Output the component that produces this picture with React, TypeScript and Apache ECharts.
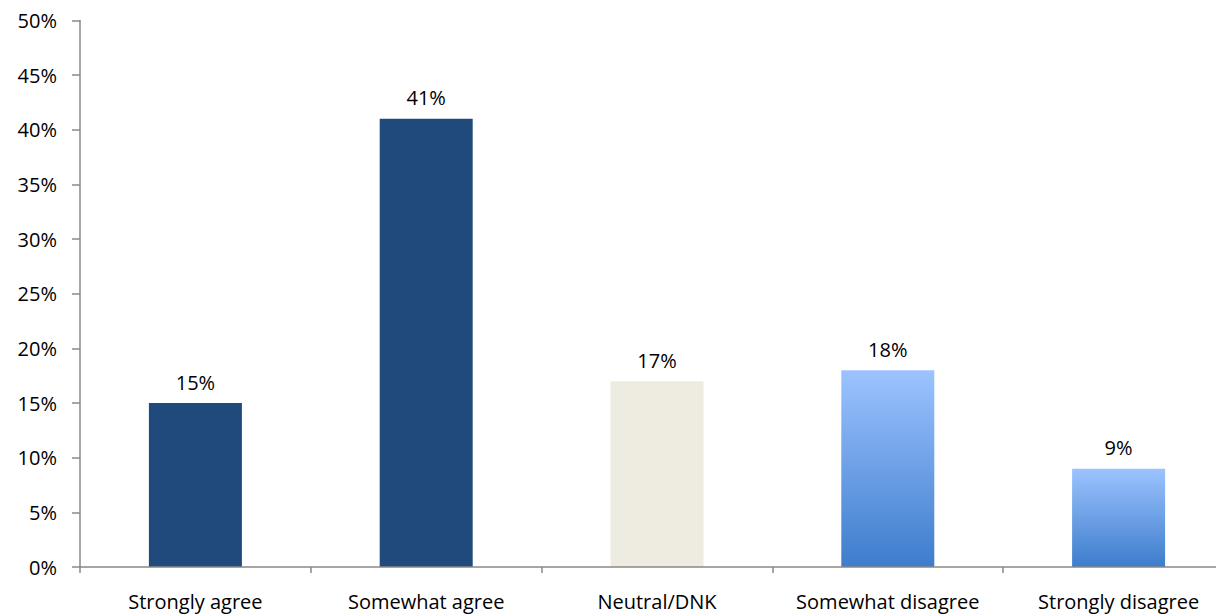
import React, { useEffect, useRef } from "react";
import * as echarts from "echarts";

const categories = ["Strongly agree", "Somewhat agree", "Neutral/DNK", "Somewhat disagree", "Strongly disagree"];
const values = [15, 41, 17, 18, 9];
const yTicks = [0, 5, 10, 15, 20, 25, 30, 35, 40, 45, 50];

const dark = "#214A7C";
const neutral = "#EEEBE0";
const grad = () =>
  new echarts.graphic.LinearGradient(0, 0, 0, 1, [
    { offset: 0, color: "#9CC3FF" },
    { offset: 1, color: "#3D7DCC" },
  ]);
const colors = [dark, dark, neutral, "grad", "grad"];

export default function App() {
  const ref = useRef<HTMLDivElement>(null);
  useEffect(() => {
    if (!ref.current) return;
    const chart = echarts.init(ref.current, null, { renderer: "svg" });
    const font = "'Open Sans', sans-serif";
    chart.setOption({
      animation: false,
      grid: { left: 80, right: 0, top: 20.5, height: 546.5, containLabel: false },
      xAxis: {
        type: "category",
        data: categories,
        z: 10,
        axisLine: { lineStyle: { color: "#888888", width: 1.5 } },
        axisTick: { show: true, interval: 0, length: 6, lineStyle: { color: "#888888", width: 1.5 } },
        axisLabel: { color: "#000", interval: 0, fontSize: 20, fontFamily: font, margin: 24 },
      },
      yAxis: {
        type: "value",
        min: yTicks[0],
        max: yTicks[yTicks.length - 1],
        interval: 5,
        splitLine: { show: false },
        axisLine: { show: true, lineStyle: { color: "#888888", width: 1.5 } },
        axisTick: { show: true, length: 8, lineStyle: { color: "#888888", width: 1.5 } },
        axisLabel: { color: "#000", fontSize: 20, fontFamily: font, margin: 23, formatter: "{value}%" },
      },
      series: [
        {
          type: "bar",
          barWidth: 93,
          data: values.map((v, i) => ({
            value: v,
            itemStyle: { color: colors[i] === "grad" ? grad() : colors[i] },
          })),
          label: {
            show: true,
            position: "top",
            distance: 11,
            color: "#000",
            fontSize: 20,
            fontFamily: font,
            formatter: "{c}%",
          },
        },
      ],
    });
    return () => chart.dispose();
  }, []);
  return (
    <div style={{ width: 1216, height: 614, position: "absolute", left: 0, top: 0, overflow: "hidden" }}>
      <div ref={ref} style={{ width: 1233.5, height: 614 }} />
    </div>
  );
}
